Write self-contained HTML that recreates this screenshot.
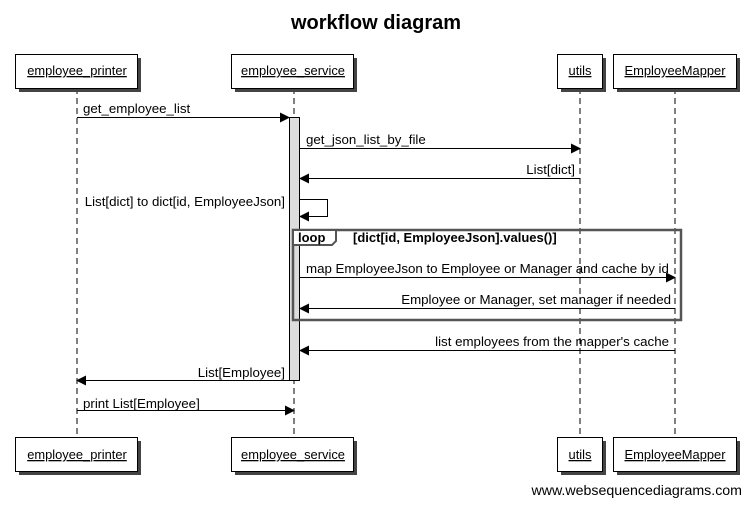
<!DOCTYPE html>
<html><head><style>
html,body{margin:0;padding:0;background:#fff;}
svg{display:block;font-family:"Liberation Sans",sans-serif;}
</style></head><body>
<svg width="751" height="505" viewBox="0 0 751 505" xmlns="http://www.w3.org/2000/svg">
<defs>
<marker id="a" markerWidth="10" markerHeight="10" refX="9" refY="5" orient="auto" markerUnits="userSpaceOnUse"><path d="M0,0 L10,5 L0,10 z" fill="#000"/></marker>
</defs>
<text x="376" y="29" text-anchor="middle" font-size="20" font-weight="bold">workflow diagram</text>
<g stroke="#000" stroke-dasharray="6,4" stroke-width="1">
<line x1="77" y1="88" x2="77" y2="438"/>
<line x1="294" y1="88" x2="294" y2="438"/>
<line x1="580" y1="88" x2="580" y2="438"/>
<line x1="675" y1="88" x2="675" y2="438"/>
</g>
<g font-size="12.9" text-anchor="middle" text-decoration="underline">
<g>
<rect x="19" y="58" width="122" height="34" fill="#444"/>
<rect x="15.5" y="54.5" width="122" height="34" fill="#fff" stroke="#000"/>
<text x="77" y="75">employee_printer</text>
<rect x="235" y="58" width="122" height="34" fill="#444"/>
<rect x="231.5" y="54.5" width="122" height="34" fill="#fff" stroke="#000"/>
<text x="293" y="75">employee_service</text>
<rect x="561" y="58" width="45" height="34" fill="#444"/>
<rect x="557.5" y="54.5" width="45" height="34" fill="#fff" stroke="#000"/>
<text x="580" y="75">utils</text>
<rect x="617" y="58" width="123" height="34" fill="#444"/>
<rect x="613.5" y="54.5" width="123" height="34" fill="#fff" stroke="#000"/>
<text x="675" y="75">EmployeeMapper</text>
</g>
<g>
<rect x="19" y="441" width="122" height="34" fill="#444"/>
<rect x="15.5" y="437.5" width="122" height="34" fill="#fff" stroke="#000"/>
<text x="77" y="459">employee_printer</text>
<rect x="235" y="441" width="122" height="34" fill="#444"/>
<rect x="231.5" y="437.5" width="122" height="34" fill="#fff" stroke="#000"/>
<text x="293" y="459">employee_service</text>
<rect x="561" y="441" width="45" height="34" fill="#444"/>
<rect x="557.5" y="437.5" width="45" height="34" fill="#fff" stroke="#000"/>
<text x="580" y="459">utils</text>
<rect x="617" y="441" width="123" height="34" fill="#444"/>
<rect x="613.5" y="437.5" width="123" height="34" fill="#fff" stroke="#000"/>
<text x="675" y="459">EmployeeMapper</text>
</g>
</g>
<rect x="289.5" y="117.5" width="10" height="263" fill="#ddd" stroke="#000"/>
<g stroke="#000" stroke-width="1" fill="none">
<line x1="77" y1="117.5" x2="289" y2="117.5" marker-end="url(#a)"/>
<line x1="300" y1="148.5" x2="580" y2="148.5" marker-end="url(#a)"/>
<line x1="580" y1="178.5" x2="300" y2="178.5" marker-end="url(#a)"/>
<polyline points="300,199.5 327.5,199.5 327.5,216.5 300,216.5" marker-end="url(#a)"/>
<line x1="300" y1="277.5" x2="675" y2="277.5" marker-end="url(#a)"/>
<line x1="675" y1="308.5" x2="300" y2="308.5" marker-end="url(#a)"/>
<line x1="675" y1="350.5" x2="300" y2="350.5" marker-end="url(#a)"/>
<line x1="289" y1="380.5" x2="77" y2="380.5" marker-end="url(#a)"/>
<line x1="77" y1="410.5" x2="294" y2="410.5" marker-end="url(#a)"/>
</g>
<rect x="293" y="230" width="388" height="90" fill="none" stroke="#555" stroke-width="2.5"/>
<path d="M293,230 H336 V241 L332,245 H293 Z" fill="#fff" stroke="#555" stroke-width="2"/>
<g font-size="13.3">
<text x="298" y="242" font-weight="bold" font-size="13">loop</text>
<text x="353" y="242" font-weight="bold" font-size="13">[dict[id, EmployeeJson].values()]</text>
<text x="83" y="113">get_employee_list</text>
<text x="306" y="144">get_json_list_by_file</text>
<text x="575" y="174" text-anchor="end">List[dict]</text>
<text x="285" y="206" text-anchor="end">List[dict] to dict[id, EmployeeJson]</text>
<text x="306" y="273">map EmployeeJson to Employee or Manager and cache by id</text>
<text x="671" y="304" text-anchor="end">Employee or Manager, set manager if needed</text>
<text x="669" y="346" text-anchor="end">list employees from the mapper's cache</text>
<text x="285" y="377" text-anchor="end">List[Employee]</text>
<text x="83" y="408">print List[Employee]</text>
<text x="742" y="495" text-anchor="end" font-size="14.2">www.websequencediagrams.com</text>
</g>
</svg>
</body></html>
